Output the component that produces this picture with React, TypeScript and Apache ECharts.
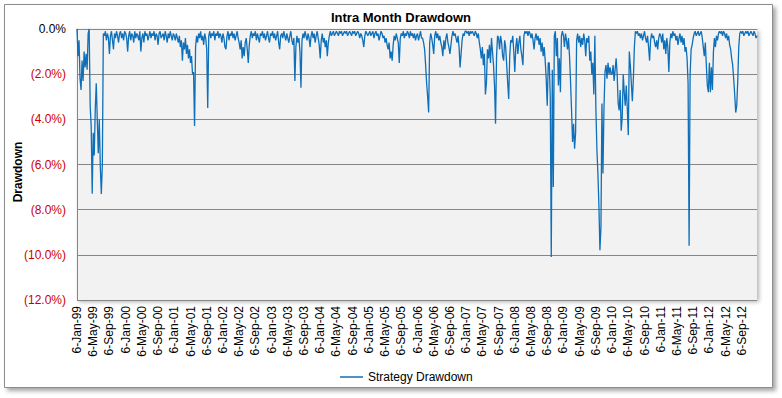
import React, { useEffect, useRef } from "react";
import * as echarts from "echarts";

// Weekly intra-month drawdown values (%), 4 points per month, starting 6-Jan-99
const dd1999 = [0, -1.2, -0.5, -2.2, -2.7, -1.4, -2.3, -1.0, -1.7, -1.1, -1.8, -0.2,
  0, -3.4, -4.3, -7.3, -4.6, -5.6, -3.6, -2.4, -4.0, -5.5, -4.0, -6.1,
  -7.3, -6.0, -0.2, -0.3, -0.1, -0.5, -0.2, -0.4, -1.1, -0.3, -0.1, -0.5,
  -0.9, -0.2, -0.4, -0.1, -0.3, -0.6, -0.2, -0.1, -0.4, -0.2, -0.5, -0.1];
const dd2000 = [-0.2, -0.4, -1.0, -0.3, -0.1, -0.5, -0.2, -0.3, -0.6, -0.1, -0.4, -0.2,
  -0.3, -0.5, -0.1, -1.0, -0.4, -0.2, -0.6, -0.1, -0.3, -0.2, -0.5, -0.3,
  -0.1, -0.4, -0.2, -0.3, -0.1, -0.5, -0.2, -0.3, -0.7, -0.2, -0.1, -0.4,
  -0.3, -0.2, -0.5, -0.1, -0.3, -0.6, -0.2, -0.4, -0.1, -0.3, -0.5, -0.2];
const dd2001 = [-0.3, -0.5, -0.2, -0.4, -0.6, -0.3, -0.8, -0.5, -1.4, -0.6, -0.9, -0.4,
  -1.1, -0.7, -1.3, -0.9, -1.5, -1.2, -2.0, -1.9, -4.3, -0.8, -0.3, -0.6,
  -0.2, -0.4, -0.1, -0.5, -0.3, -0.7, -0.2, -0.4, -0.9, -3.5, -0.3, -0.1,
  -0.4, -0.2, -0.3, -0.1, -0.5, -0.2, -0.3, -0.1, -0.4, -0.2, -0.3, -0.6];
const dd2002 = [-0.2, -0.4, -0.8, -0.9, -0.3, -0.1, -0.5, -0.2, -0.3, -0.1, -0.4, -0.2,
  -0.5, -0.3, -0.1, -0.4, -0.6, -0.9, -0.5, -1.3, -0.8, -1.2, -0.6, -0.4,
  -0.9, -1.5, -0.7, -0.3, -0.1, -0.4, -0.2, -0.3, -0.1, -0.5, -0.2, -0.4,
  -0.6, -0.2, -0.3, -0.1, -0.4, -0.2, -0.5, -0.3, -0.1, -0.4, -0.6, -0.2];
const dd2003 = [-0.3, -0.1, -0.4, -0.2, -0.5, -0.3, -0.1, -0.6, -0.9, -0.3, -0.2, -0.4,
  -0.1, -0.3, -0.5, -0.2, -0.4, -0.6, -0.3, -0.1, -0.5, -0.7, -0.4, -2.3,
  -0.8, -0.3, -0.6, -0.4, -1.0, -2.6, -0.5, -0.2, -0.4, -0.1, -0.3, -0.5,
  -0.2, -0.4, -0.8, -0.3, -0.1, -0.4, -0.2, -0.6, -0.3, -0.1, -0.4, -0.7];
const dd2004 = [-1.3, -0.5, -0.2, -0.6, -0.4, -0.8, -0.5, -1.2, -0.6, -0.3, -0.1, -0.3,
  -0.2, -0.1, -0.3, -0.2, -0.1, -0.2, -0.3, -0.1, -0.2, -0.1, -0.3, -0.2,
  -0.1, -0.2, -0.1, -0.3, -0.2, -0.1, -0.2, -0.3, -0.1, -0.2, -0.1, -0.3,
  -0.2, -0.1, -0.2, -0.4, -0.2, -0.3, -0.5, -0.8, -0.3, -0.1, -0.2, -0.3];
const dd2005 = [-0.2, -0.1, -0.3, -0.2, -0.1, -0.4, -0.2, -0.1, -0.3, -0.2, -0.5, -0.3,
  -0.1, -0.2, -0.4, -0.3, -0.6, -0.4, -0.7, -0.9, -0.6, -1.3, -1.0, -1.4,
  -0.7, -0.3, -0.5, -0.2, -0.4, -0.6, -1.5, -0.4, -0.2, -0.3, -0.1, -0.4,
  -0.2, -0.3, -0.1, -0.2, -0.4, -0.1, -0.3, -0.2, -0.4, -0.2, -0.5, -0.3];
const dd2006 = [-0.2, -0.5, -0.3, -0.1, -0.4, -0.4, -0.6, -0.9, -1.6, -2.4, -3.0, -3.7,
  -0.6, -0.2, -0.4, -0.7, -1.1, -0.3, -0.1, -0.4, -0.2, -0.5, -0.3, -0.6,
  -0.8, -1.2, -0.5, -0.9, -0.4, -0.2, -0.6, -0.8, -1.1, -0.7, -0.3, -0.1,
  -0.3, -0.2, -0.4, -0.6, -0.3, -0.8, -1.7, -1.1, -0.5, -0.2, -0.3, -0.1];
const dd2007 = [-0.1, -0.2, -0.1, -0.3, -0.1, -0.2, -0.1, -0.2, -0.3, -0.1, -0.2, -0.4,
  -0.2, -0.6, -0.9, -1.3, -0.8, -1.6, -1.1, -2.9, -2.4, -0.9, -1.3, -0.7,
  -1.5, -0.4, -1.0, -1.6, -2.5, -4.2, -1.2, -0.3, -0.4, -0.9, -0.3, -0.6,
  -1.2, -1.4, -0.5, -0.8, -1.6, -2.4, -3.1, -1.2, -0.5, -0.6, -0.3, -1.0];
const dd2008 = [-1.9, -0.8, -0.4, -1.1, -0.6, -0.3, -0.9, -1.2, -1.6, -0.3, -0.1, -0.2,
  -0.1, -0.3, -0.1, -0.2, -0.4, -0.2, -0.5, -0.9, -0.4, -0.2, -0.5, -0.3,
  -0.7, -0.4, -1.0, -0.6, -1.2, -0.8, -1.4, -2.2, -3.4, -1.5, -1.5, -3.0,
  -10.1, -1.8, -7.0, -0.3, -0.1, -1.2, -0.4, -2.5, -1.3, -2.8, -0.3, -0.1];
const dd2009 = [-0.3, -0.8, -0.2, -0.5, -0.9, -0.4, -1.2, -2.3, -3.6, -5.0, -4.2, -5.3,
  -4.6, -0.5, -0.2, -0.6, -0.3, -0.8, -0.4, -0.7, -0.2, -0.5, -1.2, -0.4,
  -0.6, -0.3, -1.4, -1.0, -2.0, -1.5, -2.9, -0.3, -3.5, -5.3, -6.4, -7.8,
  -9.8, -8.8, -3.3, -6.4, -3.5, -1.9, -1.6, -2.2, -1.5, -2.0, -1.7, -2.0];
const dd2010 = [-2.0, -1.6, -2.3, -1.8, -1.3, -2.0, -3.3, -3.6, -2.7, -4.5, -3.9, -2.0,
  -2.8, -3.4, -2.5, -3.5, -4.7, -1.0, -1.6, -2.4, -3.2, -2.2, -0.8, -0.1,
  -0.2, -0.1, -0.3, -0.2, -0.4, -0.2, -0.5, -0.3, -0.1, -0.4, -0.6, -0.3,
  -0.8, -1.4, -0.5, -0.2, -0.4, -0.3, -0.6, -0.8, -0.5, -0.9, -0.4, -0.2];
const dd2011 = [-0.3, -0.6, -0.2, -0.9, -0.5, -1.1, -0.4, -0.8, -1.9, -0.6, -0.2, -0.4,
  -0.1, -0.3, -0.2, -0.5, -0.3, -0.7, -0.4, -0.2, -0.6, -0.3, -0.7, -0.4,
  -1.0, -0.8, -1.3, -2.4, -9.6, -2.0, -0.9, -0.7, -0.4, -0.2, -0.1, -0.3,
  -0.2, -0.1, -0.3, -0.2, -0.1, -0.4, -0.8, -1.2, -0.6, -1.6, -2.5, -2.8];
const dd2012 = [-1.5, -2.8, -1.7, -2.7, -1.0, -0.4, -0.8, -0.3, -0.5, -0.2, -0.1, -0.2,
  -0.1, -0.3, -0.1, -0.2, -0.4, -0.2, -0.5, -0.3, -0.7, -0.9, -1.3, -1.6,
  -2.2, -2.9, -3.7, -3.4, -2.3, -0.8, -0.2, -0.1, -0.2, -0.1, -0.3, -0.2,
  -0.1, -0.2, -0.1, -0.3, -0.2, -0.1, -0.2, -0.3, -0.1, -0.2, -0.4, -0.3];

const xTickLabels = [
  "6-Jan-99", "6-May-99", "6-Sep-99", "6-Jan-00", "6-May-00", "6-Sep-00",
  "6-Jan-01", "6-May-01", "6-Sep-01", "6-Jan-02", "6-May-02", "6-Sep-02",
  "6-Jan-03", "6-May-03", "6-Sep-03", "6-Jan-04", "6-May-04", "6-Sep-04",
  "6-Jan-05", "6-May-05", "6-Sep-05", "6-Jan-06", "6-May-06", "6-Sep-06",
  "6-Jan-07", "6-May-07", "6-Sep-07", "6-Jan-08", "6-May-08", "6-Sep-08",
  "6-Jan-09", "6-May-09", "6-Sep-09", "6-Jan-10", "6-May-10", "6-Sep-10",
  "6-Jan-11", "6-May-11", "6-Sep-11", "6-Jan-12", "6-May-12", "6-Sep-12",
];

const seriesName = "Strategy Drawdown";
const chartTitle = "Intra Month Drawdown";
const yAxisTitle = "Drawdown";

const FONT = "'Liberation Sans', Arial, sans-serif";
const LINE_COLOR = "#0f6fb8";

export default function App() {
  const ref = useRef<HTMLDivElement>(null);

  useEffect(() => {
    document.body.style.margin = "0";
    if (!ref.current) return;
    const chart = echarts.init(ref.current, null, { renderer: "svg" });

    const all = [
      ...dd1999, ...dd2000, ...dd2001, ...dd2002, ...dd2003, ...dd2004, ...dd2005,
      ...dd2006, ...dd2007, ...dd2008, ...dd2009, ...dd2010, ...dd2011, ...dd2012,
    ];
    // x in months since 6-Jan-99 (4 weekly points per month)
    const data = all.map((v, i) => [i / 4, v]);

    chart.setOption({
      animation: false,
      backgroundColor: "#ffffff",
      textStyle: { fontFamily: FONT },
      graphic: [
        {
          type: "rect",
          z: -100,
          shape: { x: 4.5, y: 4.5, width: 768, height: 383 },
          style: {
            fill: "#ffffff",
            stroke: "#8c8c8c",
            lineWidth: 1,
            shadowBlur: 4,
            shadowOffsetX: 3,
            shadowOffsetY: 3,
            shadowColor: "rgba(0,0,0,0.35)",
          },
        },
        {
          type: "text",
          x: 401,
          y: 17,
          style: {
            text: chartTitle,
            font: `bold 13px ${FONT}`,
            fill: "#000",
            textAlign: "center",
            textVerticalAlign: "middle",
          },
        },
        {
          type: "text",
          x: 18,
          y: 172,
          rotation: Math.PI / 2,
          style: {
            text: yAxisTitle,
            font: `bold 12px ${FONT}`,
            fill: "#000",
            textAlign: "center",
            textVerticalAlign: "middle",
          },
        },
      ],
      grid: {
        left: 77,
        right: 25,
        top: 29,
        bottom: 98,
        show: true,
        backgroundColor: "#f2f2f2",
        borderWidth: 0,
        shadowColor: "rgba(0,0,0,0.3)",
        shadowBlur: 4,
        shadowOffsetX: 2,
        shadowOffsetY: 2,
      },
      legend: {
        data: [{ name: seriesName, icon: "rect" }],
        left: 335,
        top: 366,
        itemWidth: 23,
        itemHeight: 1.5,
        itemGap: 5,
        itemStyle: { color: LINE_COLOR, borderWidth: 0 },
        textStyle: { fontSize: 12, color: "#000", fontFamily: FONT, padding: [0, 0, 0, 0] },
      },
      xAxis: {
        type: "value",
        min: 0,
        max: 167.75,
        interval: 4,
        axisLine: { show: true, lineStyle: { color: "#868686", width: 1 } },
        axisTick: { show: false },
        splitLine: { show: false },
        axisLabel: {
          rotate: 90,
          margin: 6,
          fontSize: 12,
          color: "#000",
          fontFamily: FONT,
          showMaxLabel: false,
          formatter: (v: number) => {
            const k = Math.round(v / 4);
            if (Math.abs(v - k * 4) > 1e-6) return "";
            return xTickLabels[k] ?? "";
          },
        },
      },
      yAxis: {
        type: "value",
        min: -12,
        max: 0,
        interval: 2,
        axisLine: { show: true, lineStyle: { color: "#868686", width: 1 } },
        axisTick: { show: false },
        splitLine: { show: true, lineStyle: { color: "#868686", width: 1 } },
        axisLabel: {
          margin: 11,
          fontSize: 12,
          fontFamily: FONT,
          color: (v: any) => (Number(v) < 0 ? "#cc0000" : "#000000"),
          formatter: (v: number) =>
            v === 0 ? "0.0%" : `(${Math.abs(v).toFixed(1)}%)`,
        },
      },
      series: [
        {
          name: seriesName,
          type: "line",
          data,
          symbol: "none",
          showSymbol: false,
          lineStyle: { color: LINE_COLOR, width: 1.3 },
          itemStyle: { color: LINE_COLOR },
        },
      ],
    });

    return () => chart.dispose();
  }, []);

  return <div ref={ref} style={{ width: 782, height: 398 }} />;
}
